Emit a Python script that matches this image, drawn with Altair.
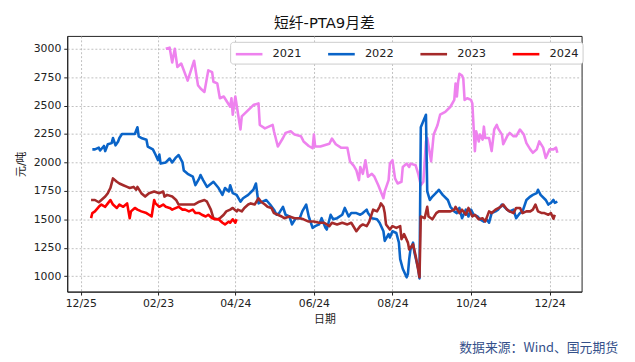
import altair as alt
import pandas as pd

# ---- data: day-of-year offsets (0 = Jan 1) and spread values (元/吨) ----
series_names = ["2021", "2022", "2023", "2024"]
series_colors = ["#EE82EE", "#0A64C8", "#A52A2A", "#FF0000"]

days_2021 = [59, 62, 64, 66, 68, 71, 76, 81, 84, 86, 89, 92, 95, 96, 99, 101, 104, 109, 110, 111,
             113, 117, 118, 127, 131, 132, 136, 142, 143, 146, 150, 152, 156, 159, 164, 166, 170,
             173, 174, 175, 179, 186, 188, 191, 195, 200, 202, 205, 207, 209, 210, 212, 214, 216,
             219, 221, 224, 228, 229, 232, 233, 235, 237, 239, 242, 243, 246, 248, 249, 253, 255,
             257, 259, 261, 262, 265, 267, 269, 270, 272, 276, 280, 283, 284, 285, 286, 287, 289,
             290, 291, 293, 296, 297, 299, 300, 302, 303, 305, 306, 307, 310, 312, 314, 316, 317,
             320, 321, 324, 326, 329, 331, 334, 337, 339, 342, 344, 347, 349, 352, 354, 357, 360,
             362, 363]
vals_2021 = [3000, 3010, 2880, 3000, 2840, 2870, 2720, 2895, 2680, 2650, 2620, 2810, 2795, 2710,
             2695, 2565, 2580, 2490, 2565, 2420, 2580, 2290, 2405, 2505, 2520, 2330, 2300, 2330,
             2275, 2140, 2215, 2260, 2275, 2245, 2230, 2185, 2145, 2125, 2245, 2140, 2140, 2165,
             2210, 2160, 2130, 2130, 2010, 1970, 1930, 1845, 1960, 1900, 2020, 1875, 1900, 1875,
             1800, 1685, 1745, 1845, 1990, 2020, 1860, 1815, 1830, 1960, 1990, 1960, 1990, 1975,
             1900, 1800, 1830, 2185, 2215, 2010, 2245, 2300, 2330, 2420, 2445, 2490, 2550, 2695,
             2580, 2710, 2780, 2765, 2735, 2550, 2565, 2550, 2520, 2100, 2275, 2185, 2245, 2200,
             2315, 2215, 2215, 2100, 2290, 2330, 2300, 2245, 2160, 2230, 2260, 2230, 2230, 2290,
             2245, 2170, 2115, 2085, 2115, 2185, 2130, 2040, 2115, 2115, 2130, 2085]

days_2022 = [2, 4, 7, 8, 11, 12, 14, 17, 18, 20, 22, 23, 25, 29, 35, 37, 38, 40, 44, 45, 49, 51,
             53, 54, 55, 59, 62, 64, 67, 69, 72, 73, 76, 80, 82, 85, 86, 88, 91, 96, 100, 103, 105,
             108, 109, 111, 114, 117, 119, 123, 127, 129, 131, 134, 137, 140, 143, 145, 147, 150,
             152, 155, 157, 160, 163, 165, 168, 170, 173, 175, 178, 180, 183, 184, 187, 189, 192,
             196, 198, 201, 203, 207, 210, 212, 215, 216, 219, 223, 225, 228, 229, 232, 233, 235,
             238, 240, 241, 243, 246, 247, 248, 249, 251, 252, 255, 256, 257, 261, 262, 264, 266,
             270, 271, 274, 278, 280, 283, 285, 287, 289, 292, 294, 296, 298, 301, 303, 306, 308,
             310, 312, 315, 317, 320, 324, 326, 329, 331, 334, 336, 339, 342, 344, 347, 348, 350,
             354, 356, 358, 360, 361, 363]
vals_2022 = [2115, 2115, 2130, 2105, 2145, 2100, 2160, 2170, 2215, 2150, 2185, 2215, 2250, 2250,
             2250, 2310, 2230, 2215, 2200, 2140, 2115, 2070, 2020, 2070, 1990, 2000, 2035, 2000,
             2045, 2065, 2000, 1930, 1900, 1875, 1800, 1860, 1890, 1845, 1785, 1830, 1775, 1715,
             1775, 1745, 1800, 1730, 1715, 1655, 1685, 1715, 1760, 1815, 1640, 1655, 1670, 1630,
             1585, 1540, 1555, 1610, 1540, 1525, 1455, 1510, 1510, 1570, 1630, 1525, 1425, 1440,
             1455, 1510, 1425, 1410, 1540, 1500, 1510, 1540, 1600, 1525, 1555, 1555, 1540, 1555,
             1585, 1555, 1510, 1500, 1470, 1395, 1310, 1370, 1340, 1395, 1380, 1295, 1150, 1065,
             990, 1020, 1150, 1235, 1295, 1210, 1065, 980, 2310, 2420, 1745, 1670, 1700, 1745,
             1760, 1715, 1670, 1610, 1570, 1555, 1600, 1510, 1585, 1525, 1585, 1540, 1525, 1500,
             1480, 1500, 1470, 1555, 1570, 1585, 1630, 1585, 1570, 1585, 1510, 1555, 1570, 1670,
             1700, 1715, 1730, 1760, 1715, 1670, 1630, 1645, 1670, 1645, 1655]

days_2023 = [1, 4, 7, 9, 12, 14, 16, 18, 21, 23, 26, 29, 31, 34, 36, 37, 40, 43, 46, 50, 54, 57,
             58, 60, 64, 67, 69, 73, 77, 81, 85, 89, 91, 94, 96, 99, 101, 104, 106, 109, 111, 114,
             115, 118, 120, 123, 125, 128, 131, 133, 136, 138, 141, 143, 146, 149, 151, 155, 159,
             163, 166, 170, 174, 178, 182, 186, 188, 192, 196, 200, 203, 207, 210, 212, 215, 217,
             220, 223, 225, 226, 228, 229, 230, 233, 235, 238, 241, 242, 244, 247, 248, 251, 253,
             256, 257, 260, 262, 263, 266, 269, 271, 274, 278, 280, 283, 284, 287, 289, 292, 294,
             297, 299, 302, 305, 307, 310, 312, 315, 319, 321, 324, 326, 329, 331, 334, 336, 339,
             342, 344, 346, 348, 351, 353, 356, 358, 360, 361]
vals_2023 = [1670, 1670, 1650, 1670, 1700, 1730, 1775, 1860, 1830, 1815, 1800, 1785, 1775, 1785,
             1760, 1785, 1730, 1700, 1730, 1745, 1730, 1745, 1700, 1715, 1700, 1670, 1630, 1630,
             1630, 1630, 1655, 1670, 1655, 1585, 1510, 1500, 1510, 1540, 1570, 1585, 1600, 1570,
             1585, 1570, 1600, 1630, 1640, 1630, 1685, 1655, 1630, 1610, 1600, 1555, 1540, 1525,
             1510, 1525, 1510, 1510, 1500, 1480, 1480, 1470, 1470, 1440, 1470, 1455, 1470, 1455,
             1470, 1395, 1440, 1455, 1440, 1480, 1585, 1570, 1610, 1640, 1610, 1555, 1455, 1410,
             1440, 1425, 1440, 1325, 1370, 1295, 1235, 1280, 1180, 990, 1525, 1510, 1610, 1525,
             1500, 1555, 1570, 1570, 1570, 1570, 1585, 1610, 1555, 1585, 1540, 1600, 1525, 1540,
             1500, 1510, 1480, 1570, 1555, 1585, 1610, 1630, 1585, 1570, 1555, 1600, 1600, 1555,
             1570, 1570, 1585, 1630, 1570, 1555, 1555, 1540, 1555, 1505, 1540]

days_2024 = [1, 2, 4, 7, 9, 12, 14, 16, 18, 21, 23, 26, 29, 31, 32, 35, 37, 40, 44, 46, 48, 50,
             51, 54, 57, 59, 62, 64, 67, 69, 72, 74, 77, 80, 82, 85, 87, 90, 92, 95, 97, 100, 103,
             105, 108, 109, 111, 113, 114]
vals_2024 = [1510, 1555, 1570, 1610, 1630, 1610, 1640, 1670, 1630, 1600, 1630, 1610, 1640, 1510,
             1570, 1600, 1585, 1570, 1555, 1540, 1525, 1670, 1640, 1610, 1630, 1610, 1600, 1585,
             1600, 1610, 1585, 1585, 1570, 1585, 1555, 1555, 1540, 1525, 1540, 1510, 1500, 1500,
             1470, 1455, 1480, 1470, 1500, 1470, 1500]

y_ticks = [1000, 1250, 1500, 1750, 2000, 2250, 2500, 2750, 3000]
x_ticks = [(2000, 12, 25), (2001, 2, 23), (2001, 4, 24), (2001, 6, 24),
           (2001, 8, 24), (2001, 10, 24), (2001, 12, 24)]
title_text = "短纤-PTA9月差"
source_text = "数据来源：Wind、国元期货"

# ---- build table ----
base_day = pd.Timestamp("2001-01-01")
rows = []
for name, ds, vs in zip(series_names,
                        [days_2021, days_2022, days_2023, days_2024],
                        [vals_2021, vals_2022, vals_2023, vals_2024]):
    for d, v in zip(ds, vs):
        rows.append({"date": base_day + pd.Timedelta(days=d), "value": v, "series": name})
df = pd.DataFrame(rows)

FONT = "DejaVu Sans, Noto Sans CJK SC, sans-serif"

lines = alt.Chart(df).mark_line(strokeWidth=2.6, strokeJoin="round", strokeCap="butt").encode(
    x=alt.X("date:T",
            scale=alt.Scale(domain=[alt.DateTime(year=2000, month=12, date=14, hours=12),
                                    alt.DateTime(year=2002, month=1, date=17, hours=20)]),
            axis=alt.Axis(values=[alt.DateTime(year=y, month=m, date=d) for y, m, d in x_ticks],
                          format="%m/%d", title="日期", labelPadding=3, titlePadding=5)),
    y=alt.Y("value:Q",
            scale=alt.Scale(domain=[864, 3113], nice=False, zero=False),
            axis=alt.Axis(values=y_ticks, format="d", title="元/吨", titlePadding=7,
                          labelPadding=3)),
    color=alt.Color("series:N",
                    scale=alt.Scale(domain=series_names, range=series_colors),
                    legend=alt.Legend(title=None, orient="none", legendX=165, legendY=6,
                                      direction="horizontal", columns=4,
                                      symbolType="M-1,0H3", symbolSize=182,
                                      symbolStrokeWidth=2.6, labelOffset=22,
                                      columnPadding=20.5, labelFontSize=11.5, labelFont=FONT,
                                      labelColor="#222", padding=4, strokeColor="#cccccc",
                                      fillColor="white", cornerRadius=3)),
)

source = alt.Chart(pd.DataFrame({"t": [source_text]})).mark_text(
    align="right", baseline="middle", fontSize=13, color="#34508A",
    font="Noto Sans CJK SC").encode(
    text="t:N", x=alt.value(558), y=alt.value(316))

chart = alt.layer(lines, source).properties(
    width=521, height=259,
    title=alt.TitleParams(title_text, fontSize=15, font=FONT, fontWeight="normal",
                          anchor="middle", offset=5, color="#111"),
    autosize=alt.AutoSizeParams(type="none"),
    padding={"left": 60, "top": 26, "right": 46, "bottom": 69},
).configure_view(
    stroke="#222", strokeWidth=1
).configure_axis(
    labelFont=FONT, labelFontSize=11, labelColor="#222", titleFont=FONT,
    titleFontSize=11, titleFontWeight="normal", titleColor="#222",
    tickColor="#222", tickSize=3.5, domainColor="#222",
    gridColor="#b0b0b0", gridDash=[2, 2], gridWidth=0.8, grid=True
)

chart.save("out.html", embed_options={"renderer": "svg", "actions": False})
